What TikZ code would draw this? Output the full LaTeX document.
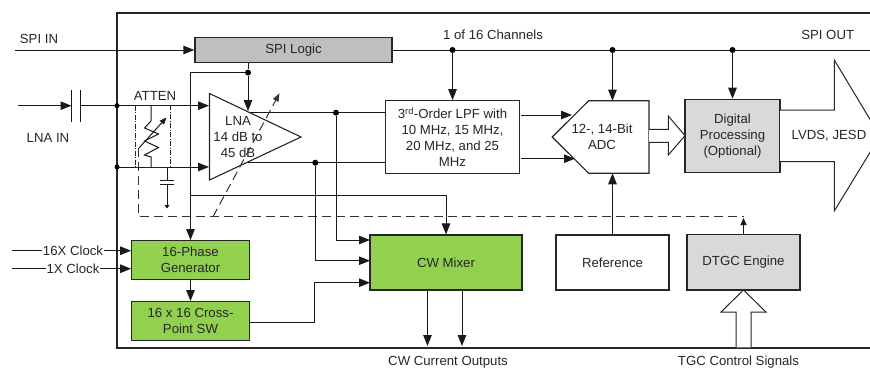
\documentclass[tikz,border=0pt]{standalone}
\usepackage{fontspec}
\setmainfont{Liberation Sans}
\usetikzlibrary{arrows.meta,calc}
\tikzset{
  wire/.style={line width=1pt,draw=black!90},
  arr/.style={wire,-{Triangle[length=11pt,width=8.5pt]}},
  smallarr/.style={wire,-{Triangle[length=7pt,width=6pt]}},
  dashwire/.style={line width=1pt,draw=black!80,dash pattern=on 9pt off 5pt},
  block/.style={draw=black!85,line width=1.2pt,inner sep=0pt,align=center,
    font=\fontsize{13.2}{16}\selectfont,text=black!85},
  label/.style={inner sep=0pt,align=center,font=\fontsize{13.2}{16}\selectfont,text=black!85},
  cliplabel/.style={label,fill=white,inner sep=1pt},
  dot/.style={circle,fill=black,inner sep=0pt,minimum size=6pt},
  hollow/.style={line width=1pt,draw=black!85,fill=white,line join=miter}
}
\definecolor{mygreen}{HTML}{92D050}
\definecolor{lgray}{HTML}{D9D9D9}
\definecolor{mgray}{HTML}{BFBFBF}
\begin{document}
\begin{tikzpicture}[x=1pt,y=-1pt]
\useasboundingbox (0,0) rectangle (870,367);
\clip (0,0) rectangle (870,367);
% frame
\draw[line width=1.1pt,draw=black!85] (880,13) -- (117,13) -- (117,348) -- (880,348);
% coordinates
\coordinate (spiin) at (15,50);
\coordinate (spiout) at (870,50);
\coordinate (lnain) at (18,105.7);
\coordinate (capL) at (71.5,105.7);
\coordinate (capR) at (80,105.7);
\coordinate (top) at (117,105.7);
\coordinate (bot) at (117,167);
\coordinate (topin) at (209,105.7);
\coordinate (botin) at (209,167);
\coordinate (ck16) at (12,250.7);
\coordinate (ck1) at (12,268.7);
% blocks
\node[block,fill=mgray,minimum width=197pt,minimum height=25pt] (spi) at (293.5,50) {SPI Logic};
\node[block,fill=white,minimum width=133.5pt,minimum height=72.5pt] (lpf) at (452.5,137) {3\textsuperscript{rd}-Order LPF with\\10 MHz, 15 MHz,\\20 MHz, and 25\\MHz};
\node[block,fill=lgray,minimum width=95pt,minimum height=73pt] (dig) at (732.5,135.8) {Digital\\Processing\\(Optional)};
\node[block,fill=mygreen,minimum width=117.5pt,minimum height=39pt] (phase) at (190.5,260.2) {16-Phase\\Generator};
\node[block,fill=mygreen,minimum width=117.5pt,minimum height=39pt] (cross) at (190.5,321.2) {16 x 16 Cross-\\Point SW};
\node[block,fill=mygreen,minimum width=152pt,minimum height=55pt] (mixer) at (446,262.5) {CW Mixer};
\node[block,fill=white,minimum width=113pt,minimum height=55pt] (ref) at (612.5,262.5) {Reference};
\node[block,fill=lgray,minimum width=113pt,minimum height=55.5pt] (dtgc) at (743.5,262.2) {DTGC Engine};
% input wiring
\draw[arr] (spiin) -- (spi.west);
\draw[wire] (spi.east) -- (spiout);
\draw[arr] (lnain) -- (capL);
\draw[wire] (capL |- 0,90) -- (capL |- 0,122);
\draw[wire] (capR |- 0,90) -- (capR |- 0,122);
\draw[arr] (capR) -- (topin);
\draw[arr] (bot) -- (botin);
\node[dot,minimum size=5pt] (dtop) at (top) {};
\node[dot,minimum size=5pt] (dbot) at (bot) {};
% SPI branch
\node[dot] (dspi) at (248,72.6) {};
\coordinate (lnatop) at (248,111);
\draw[wire] (spi.south -| dspi) -- (dspi);
\draw[arr] (dspi) -| (phase.north);
\coordinate (mixtap) at (190,195.3);
\draw[arr] (mixtap) -| (mixer.north);
% LNA outputs
\coordinate (lnaoutA) at (250,112.7);
\coordinate (lnaoutB) at (245,162.7);
\draw[wire] (lnaoutA) -- (lnaoutA -| lpf.west);
\draw[wire] (lnaoutB) -- (lnaoutB -| lpf.west);
\node[dot] (d1) at (336,112.7) {};
\node[dot] (d2) at (315.3,162.7) {};
\coordinate (mixA) at (370,240);
\coordinate (mixB) at (370,260.7);
\coordinate (mixC) at (370,282.7);
\draw[arr] (d1) |- (mixA);
\draw[arr] (d2) |- (mixB);
\coordinate (crossbend) at (314,322.7);
\draw[arr] (crossbend -| cross.east) -- (crossbend) |- (mixC);
\draw[arr] (phase.south) -- (cross.north);
% clocks
\draw[arr] (ck16) -- (ck16 -| phase.west);
\draw[arr] (ck1) -- (ck1 -| phase.west);
\node[cliplabel] (t16) at (73,250.7) {16X Clock};
\node[cliplabel] (t1) at (73,268.7) {1X Clock};
% mixer outs
\coordinate (outA) at (427.5,346);
\coordinate (outB) at (462,346);
\draw[arr] (outA |- mixer.south) -- (outA);
\draw[arr] (outB |- mixer.south) -- (outB);
% ADC
\draw[block,fill=white] (552.3,137) -- (588.7,100.7) -- (649,100.7) -- (649,173.3) -- (588.7,173.3) -- cycle;
% LPF to ADC
\coordinate (adcA) at (572,115);
\coordinate (adcB) at (575,158.7);
\coordinate (lpfA) at (521,115);
\coordinate (lpfB) at (521,158.7);
\draw[arr] (lpfA) -- (adcA);
\draw[arr] (lpfB) -- (adcB);
\node[label] (adctxt) at (602,136.5) {12-, 14-Bit\\ADC};
% SPI dots and arrows
\node[dot] (d3) at (452.5,50) {};
\node[dot] (d4) at (612.5,50) {};
\node[dot] (d5) at (732.5,50) {};
\draw[arr] (d3) -- (lpf.north);
\coordinate (adctop) at (612.5,100.7);
\coordinate (adcbot) at (612.5,173.3);
\draw[arr] (d4) -- (adctop);
\draw[arr] (d5) -- (dig.north);
\draw[arr] (ref.north) -- (adcbot);
% LNA
\draw[line width=1.1pt,draw=black!85,fill=white,line join=miter] (209.5,93.5) -- (301,137) -- (209.5,180) -- cycle;
\draw[arr] (dspi) -- (lnatop);
\node[label] (lnatxt) at (238,137.5) {LNA\\14 dB to\\45 dB};
% attenuator
\draw[line width=0.8pt,draw=black!85,dash pattern=on 5pt off 1.5pt on 1pt off 1.5pt] (135.5,105.7) rectangle (170.5,167);
\draw[wire,line join=miter] (151,105.7) -- (151,121) -- (144.5,128) -- (158.5,134) -- (144.5,141) -- (158.5,147.5) -- (144.5,155) -- (151,157) -- (151,167);
\draw[wire,-{Triangle[length=7pt,width=5.5pt]}] (139,148) -- (166.5,117.5);
\node[label] (atten) at (155,96) {ATTEN};
% capacitor
\draw[wire] (167,167) -- (167,180.7);
\draw[wire] (160,180.7) -- (174,180.7);
\draw[wire] (160,184.7) -- (174,184.7);
\draw[wire,-{Triangle[length=3.5pt,width=5pt]}] (167,184.7) -- (167,208.5);
% dashed control
\coordinate (dcA) at (138.7,148);
\coordinate (dcB) at (138.7,216.7);
\coordinate (dcC) at (743.5,216.7);
\coordinate (dcD) at (213,216.7);
\coordinate (dcE) at (279.5,93.3);
\draw[dashwire] (dcA) -- (dcB) -- (dcC);
\draw[dashwire,-{Triangle[length=8pt,width=6pt]}] (dcD) -- (dcE);
\coordinate (dtgcup) at (743.5,218);
\draw[smallarr] (dtgc.north) -- (dtgcup);
% hollow arrows
\draw[hollow] (649,129.3) -- (668.3,129.3) -- (668.3,116) -- (685,135.7) -- (668.3,155) -- (668.3,142.3) -- (649,142.3);
\draw[hollow] (780,110) -- (834.3,110) -- (834.3,60) -- (880,136) -- (834.3,211) -- (834.3,161.7) -- (780,161.7);
\draw[hollow] (736,347.4) -- (736,312) -- (721,312) -- (743.5,290) -- (766,312) -- (751,312) -- (751,347.4);
% labels
\node[label] (spiintxt) at (39,39) {SPI IN};
\node[label] (spiouttxt) at (827.7,35) {SPI OUT};
\node[label] (chan) at (493,34.5) {1 of 16 Channels};
\node[label] (lnaintxt) at (48,138) {LNA IN};
\node[label] (lvds) at (829,135.5) {LVDS, JESD};
\node[label] (cwout) at (448,362.5) {CW Current Outputs};
\node[label] (tgc) at (738.5,362.5) {TGC Control Signals};
\end{tikzpicture}
\end{document}
